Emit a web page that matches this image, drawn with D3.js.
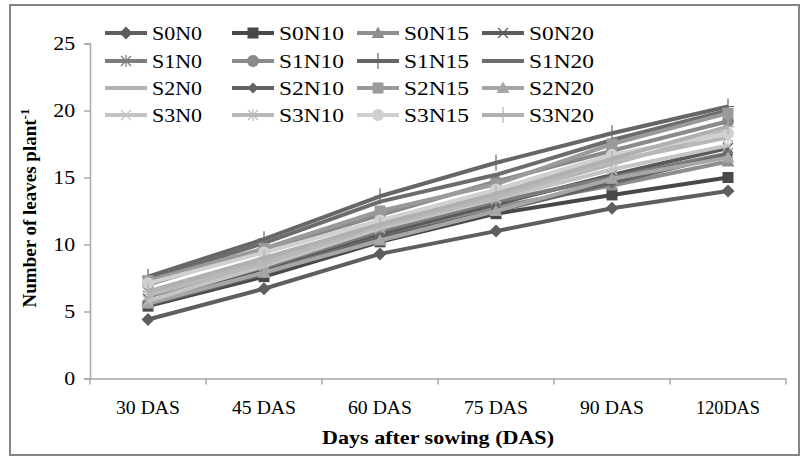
<!DOCTYPE html>
<html><head><meta charset="utf-8">
<script src="https://cdn.jsdelivr.net/npm/d3@7/dist/d3.min.js"></script>
<style>body{margin:0;background:#fff}svg{display:block}text{font-family:'Liberation Serif','Times New Roman',serif}</style>
</head><body>
<svg id="c" width="804" height="461"></svg>
<script>
const categories = ["30 DAS","45 DAS","60 DAS","75 DAS","90 DAS","120DAS"];
const seriesNames = ["S0N0","S0N10","S0N15","S0N20","S1N0","S1N10","S1N15","S1N20","S2N0","S2N10","S2N15","S2N20","S3N0","S3N10","S3N15","S3N20"];
const S0N0  = [4.4, 6.7, 9.3, 11.0, 12.7, 14.0];
const S0N10 = [5.4, 7.6, 10.2, 12.3, 13.7, 15.0];
const S0N15 = [5.8, 8.0, 10.6, 12.8, 14.4, 16.2];
const S0N20 = [5.9, 8.2, 10.8, 13.0, 15.2, 17.2];
const S1N0  = [6.0, 8.3, 11.0, 13.2, 15.0, 16.8];
const S1N10 = [7.0, 9.6, 12.2, 14.7, 17.0, 19.2];
const S1N15 = [7.6, 10.4, 13.6, 16.1, 18.3, 20.3];
const S1N20 = [7.4, 10.1, 13.2, 15.2, 17.8, 20.0];
const S2N0  = [6.3, 8.8, 11.6, 13.6, 16.0, 18.5];
const S2N10 = [5.5, 7.8, 10.5, 12.5, 14.6, 16.7];
const S2N15 = [7.3, 9.7, 12.5, 14.5, 17.5, 19.8];
const S2N20 = [5.6, 7.9, 10.3, 12.5, 14.9, 16.5];
const S3N0  = [5.8, 8.4, 11.2, 13.4, 15.6, 17.4];
const S3N10 = [6.2, 8.6, 11.4, 13.5, 16.2, 18.0];
const S3N15 = [7.1, 9.4, 11.8, 14.1, 16.7, 18.3];
const S3N20 = [6.5, 9.0, 11.5, 13.8, 16.4, 18.8];
const seriesValues = [S0N0,S0N10,S0N15,S0N20,S1N0,S1N10,S1N15,S1N20,S2N0,S2N10,S2N15,S2N20,S3N0,S3N10,S3N15,S3N20];
const yTicks = [0,5,10,15,20,25];

const colors  = ["#5e5e5e","#484848","#8e8e8e","#5a5a5a","#7c7c7c","#8a8a8a","#666666","#6c6c6c","#b4b4b4","#646464","#9a9a9a","#a6a6a6","#c4c4c4","#b8b8b8","#d0d0d0","#b0b0b0"];
const markers = ["diamond","square","triangle","x","asterisk","circle","plus","none","none","diamondS","square","triangle","x","asterisk","circle","plus"];

const svg = d3.select("#c");
const font = "'Liberation Serif','Times New Roman',serif";

svg.append("rect").attr("x",10).attr("y",5).attr("width",789).attr("height",450)
  .attr("fill","none").attr("stroke","#858585").attr("stroke-width",2);

const x = d3.scaleBand().domain(categories).range([90,786]);
const y = d3.scaleLinear().domain([0,25]).range([378.5,43.5]);

const gy = svg.append("g").attr("transform","translate(90,0)")
  .call(d3.axisLeft(y).tickValues(yTicks).tickSize(6).tickPadding(9));
const gx = svg.append("g").attr("transform","translate(0,378.5)")
  .call(d3.axisBottom(x).tickSize(0).tickPadding(22));
gx.selectAll(".bnd").data(categories.concat([null])).enter().append("line")
  .attr("class","bnd")
  .attr("x1",(d,i)=> i<categories.length ? x(d) : x.range()[1])
  .attr("x2",(d,i)=> i<categories.length ? x(d) : x.range()[1])
  .attr("y1",0).attr("y2",6).attr("stroke","#a8a8a8").attr("stroke-width",1.5);
[gx,gy].forEach(g=>{
  g.attr("font-family",font).attr("font-size",19);
  g.selectAll("path.domain").attr("stroke","#a8a8a8").attr("stroke-width",1.5);
  g.selectAll(".tick line").attr("stroke","#a8a8a8").attr("stroke-width",1.5);
  g.selectAll("text").attr("font-family",font).attr("font-size",19).attr("fill","#000");
});
gx.selectAll(".tick text").attr("textLength",64).attr("lengthAdjust","spacingAndGlyphs");
gy.selectAll(".tick text").attr("transform","scale(1.15,1)").attr("x",-13);

svg.append("text").attr("x",438).attr("y",444).attr("text-anchor","middle")
  .attr("font-family",font).attr("font-weight","bold").attr("font-size",19)
  .attr("textLength",232).attr("lengthAdjust","spacingAndGlyphs")
  .text("Days after sowing (DAS)");
const yt = svg.append("text").attr("transform","translate(36,208) rotate(-90)")
  .attr("text-anchor","middle").attr("font-family",font).attr("font-weight","bold").attr("font-size",19);
yt.append("tspan").text("Number of leaves plant");
yt.append("tspan").attr("dy",-7).attr("font-size",13).text("-1");

function drawMarker(g, type, cx, cy, col){
  const s = 5;
  if(type==="diamond"||type==="diamondS"){
    const r = type==="diamond"?6.5:5.5;
    g.append("path").attr("d",`M${cx},${cy-r}L${cx+r},${cy}L${cx},${cy+r}L${cx-r},${cy}Z`).attr("fill",col);
  } else if(type==="square"){
    g.append("rect").attr("x",cx-5.5).attr("y",cy-5.5).attr("width",11).attr("height",11).attr("fill",col);
  } else if(type==="triangle"){
    g.append("path").attr("d",`M${cx},${cy-6.5}L${cx+6.5},${cy+5}L${cx-6.5},${cy+5}Z`).attr("fill",col);
  } else if(type==="circle"){
    g.append("circle").attr("cx",cx).attr("cy",cy).attr("r",6).attr("fill",col);
  } else if(type==="x"){
    g.append("path").attr("d",`M${cx-s},${cy-s}L${cx+s},${cy+s}M${cx-s},${cy+s}L${cx+s},${cy-s}`).attr("stroke",col).attr("stroke-width",1.2);
  } else if(type==="asterisk"){
    g.append("path").attr("d",`M${cx-s},${cy-s}L${cx+s},${cy+s}M${cx-s},${cy+s}L${cx+s},${cy-s}M${cx},${cy-s-1}L${cx},${cy+s+1}`).attr("stroke",col).attr("stroke-width",1.2);
  } else if(type==="plus"){
    g.append("path").attr("d",`M${cx},${cy-8}L${cx},${cy+8}M${cx-6},${cy}L${cx+6},${cy}`).attr("stroke",col).attr("stroke-width",1.2);
  }
}

const line = d3.line().x((d,i)=>x(categories[i])+x.bandwidth()/2).y(d=>y(d));
const plot = svg.append("g");
seriesValues.forEach((vals,k)=>{
  const g = plot.append("g");
  g.append("path").attr("d",line(vals)).attr("fill","none").attr("stroke",colors[k]).attr("stroke-width",4).attr("stroke-linejoin","round");
  vals.forEach((v,i)=>drawMarker(g, markers[k], x(categories[i])+x.bandwidth()/2, y(v), colors[k]));
});

const legX = [105, 232, 357, 482];
const legY = [33, 61, 88, 115];
seriesNames.forEach((n,k)=>{
  const cx = legX[k%4], cy = legY[Math.floor(k/4)];
  const g = svg.append("g");
  g.append("line").attr("x1",cx).attr("x2",cx+42).attr("y1",cy).attr("y2",cy).attr("stroke",colors[k]).attr("stroke-width",4);
  drawMarker(g, markers[k], cx+21, cy, colors[k]);
  g.append("text").attr("x",cx+47).attr("y",cy+6.5).attr("font-family",font).attr("font-size",19)
    .attr("textLength", n.length===4?50:65).attr("lengthAdjust","spacingAndGlyphs").text(n);
});
</script>
</body></html>
